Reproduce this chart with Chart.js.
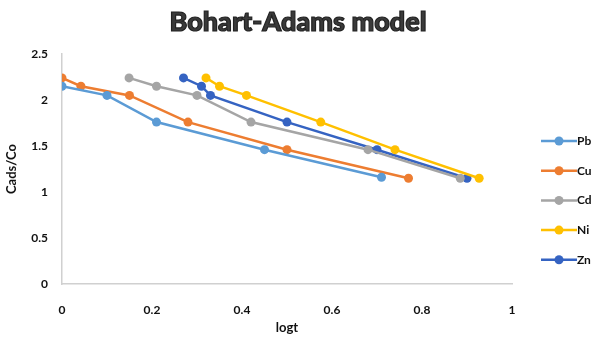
<!DOCTYPE html>
<html>
<head>
<meta charset="utf-8">
<script src="https://cdn.jsdelivr.net/npm/chart.js@4"></script>
<style>
  html, body { margin: 0; padding: 0; background: #fff; }
  #wrap { width: 600px; height: 344px; }
</style>
</head>
<body>
<div id="wrap"><canvas id="baChart"></canvas></div>
<script>
const seriesNames = ['Pb', 'Cu', 'Cd', 'Ni', 'Zn'];
const pbX = [0, 0.1, 0.21, 0.45, 0.71];
const pbY = [2.15, 2.05, 1.76, 1.46, 1.16];
const cuX = [0, 0.042, 0.15, 0.28, 0.5, 0.77];
const cuY = [2.24, 2.15, 2.05, 1.76, 1.46, 1.15];
const cdX = [0.149, 0.21, 0.3, 0.42, 0.68, 0.885];
const cdY = [2.24, 2.15, 2.05, 1.76, 1.46, 1.15];
const niX = [0.32, 0.35, 0.41, 0.575, 0.74, 0.927];
const niY = [2.24, 2.15, 2.05, 1.76, 1.46, 1.15];
const znX = [0.27, 0.31, 0.33, 0.5, 0.7, 0.9];
const znY = [2.24, 2.15, 2.05, 1.76, 1.46, 1.15];
const xTicks = [0, 0.2, 0.4, 0.6, 0.8, 1];
const yTicks = [0, 0.5, 1, 1.5, 2, 2.5];

const colors = ['#5b9bd5', '#ed7d31', '#a5a5a5', '#ffc000', '#3563c2'];
const xs = [pbX, cuX, cdX, niX, znX];
const ys = [pbY, cuY, cdY, niY, znY];

const toPoints = (x, y) => x.map((v, i) => ({ x: v, y: y[i] }));

// title centred on the whole picture + legend with line and marker on the right
const extras = {
    id: 'extras',
    afterDraw(chart) {
        const c = chart.ctx;
        c.save();
        c.font = '900 27px Lato';
        c.textAlign = 'center';
        c.textBaseline = 'middle';
        c.lineWidth = 1.2;
        c.strokeStyle = '#222';
        c.fillStyle = '#3a3a3a';
        c.fillText('Bohart-Adams model', 298, 22);
        c.strokeText('Bohart-Adams model', 298, 22);
        c.restore();

        const top = 141, step = 29.7;
        chart.data.datasets.forEach((ds, i) => {
            const y = top + i * step;
            c.save();
            c.strokeStyle = ds.borderColor;
            c.lineWidth = 2.5;
            c.beginPath();
            c.moveTo(541, y);
            c.lineTo(577, y);
            c.stroke();
            c.fillStyle = ds.backgroundColor;
            c.beginPath();
            c.arc(559, y, 4.5, 0, Math.PI * 2);
            c.fill();
            c.fillStyle = '#111';
            c.font = 'bold 12px Lato';
            c.textBaseline = 'middle';
            c.fillText(ds.label, 577, y);
            c.restore();
        });
    }
};

const ctx = document.getElementById('baChart');
new Chart(ctx.getContext('2d'), {
    type: 'line',
    data: {
        datasets: seriesNames.map((name, i) => ({
            label: name,
            data: toPoints(xs[i], ys[i]),
            borderColor: colors[i],
            backgroundColor: colors[i],
            borderWidth: 2.5,
            pointRadius: 4.5,
            pointHoverRadius: 4.5,
            pointBorderWidth: 0,
            tension: 0,
        }))
    },
    options: {
        responsive: true,
        maintainAspectRatio: false,
        animation: false,
        layout: { padding: { left: 0, right: 88, top: 54, bottom: 4 } },
        plugins: {
            legend: { display: false },
            tooltip: { enabled: false },
            title: { display: false }
        },
        scales: {
            x: {
                type: 'linear',
                min: 0,
                max: 1,
                afterBuildTicks: (s) => { s.ticks = xTicks.map(v => ({ value: v })); },
                afterFit: (s) => { s.height = 56; },
                grid: { display: false, drawTicks: false },
                border: { color: '#d0d0d0', width: 1.5 },
                ticks: {
                    padding: 19,
                    color: '#111',
                    font: { family: 'Lato', size: 12, weight: 'bold' },
                    callback: (v) => String(v)
                },
                title: {
                    display: true,
                    text: 'logt',
                    color: '#111',
                    font: { family: 'Lato', size: 13, weight: 'bold' },
                    padding: { top: 3 }
                }
            },
            y: {
                min: 0,
                max: 2.5,
                afterBuildTicks: (s) => { s.ticks = yTicks.map(v => ({ value: v })); },
                afterFit: (s) => { s.width = 62; },
                grid: { display: false, drawTicks: false },
                border: { color: '#d0d0d0', width: 1.5 },
                ticks: {
                    padding: 14,
                    color: '#111',
                    font: { family: 'Lato', size: 12, weight: 'bold' },
                    callback: (v) => String(v)
                },
                title: {
                    display: true,
                    text: 'Cads/Co',
                    color: '#111',
                    font: { family: 'Lato', size: 13, weight: 'bold' },
                    padding: { bottom: 2 }
                }
            }
        }
    },
    plugins: [extras]
});
</script>
</body>
</html>
